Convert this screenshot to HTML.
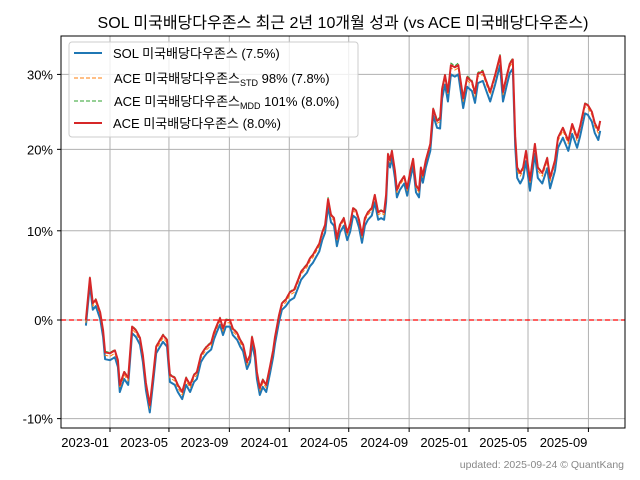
<!DOCTYPE html>
<html><head><meta charset="utf-8">
<style>
html,body{margin:0;padding:0;background:#fff;}
svg{display:block;font-family:"Liberation Sans","Noto Sans CJK KR",sans-serif;}
</style></head>
<body>
<svg id="chart" width="640" height="480" viewBox="0 0 640 480">
<rect x="0" y="0" width="640" height="480" fill="#fff"/>
<text x="343" y="28" font-size="16" text-anchor="middle" fill="#000">SOL 미국배당다우존스 최근 2년 10개월 성과 (vs ACE 미국배당다우존스)</text>
<g id="grid"></g>
<g id="series"></g>
<rect x="61" y="36" width="564" height="392" fill="none" stroke="#000" stroke-width="1"/>
<g id="axes"></g>
<g>
<rect x="69" y="42" width="289" height="95" rx="3" fill="#fff" fill-opacity="0.8" stroke="#ccc"/>
<g><line x1="74" y1="53" x2="102" y2="53" stroke="#1f77b4" stroke-width="2"/><text x="113" y="58" font-size="13">SOL 미국배당다우존스 (7.5%)</text></g>
<g><line x1="74" y1="78" x2="102" y2="78" stroke="#ff7f0e" stroke-width="1" stroke-dasharray="4,2"/><text x="114" y="83" font-size="13">ACE 미국배당다우존스<tspan font-size="9" dy="3">STD</tspan><tspan dy="-3"> 98% (7.8%)</tspan></text></g>
<g><line x1="74" y1="101" x2="102" y2="101" stroke="#2ca02c" stroke-width="1" stroke-dasharray="4,2"/><text x="114" y="106" font-size="13">ACE 미국배당다우존스<tspan font-size="9" dy="3">MDD</tspan><tspan dy="-3"> 101% (8.0%)</tspan></text></g>
<g><line x1="74" y1="123" x2="102" y2="123" stroke="#d62728" stroke-width="2"/><text x="113" y="128" font-size="13">ACE 미국배당다우존스 (8.0%)</text></g>
</g>
<text x="624" y="468" font-size="10.5" text-anchor="end" fill="#888">updated: 2025-09-24 © QuantKang</text>
</svg>
<script>
const days = [-49,-41,-35,-29,-20,-14,-10,0,10,16,20,29,37,45,53,61,67,73,81,88,94,102,108,116,122,132,138,147,155,163,171,177,185,191,197,206,212,218,224,230,236,244,250,259,265,271,279,285,289,295,299,305,311,318,326,332,336,344,350,358,366,375,383,389,395,401,407,413,419,426,432,438,444,450,456,462,468,476,483,489,495,501,507,513,519,525,533,539,546,552,558,562,566,570,574,580,584,590,599,605,611,617,623,629,633,637,643,652,658,666,672,676,682,688,694,702,709,719,727,737,743,749,759,768,774,784,794,800,808,814,820,825,829,835,841,847,855,865,871,880,890,896,906,912,922,933,941,951,957,967,973,981,987,994,998];
const solValues = [-0.6,3.9,1.1,1.5,0.1,-1.8,-4.1,-4.2,-3.9,-4.9,-7.4,-6.1,-6.7,-1.4,-1.8,-2.6,-4.4,-7.2,-9.4,-6.4,-3.5,-2.8,-2.3,-2.8,-6.4,-6.7,-7.4,-8.1,-6.7,-7.4,-6.4,-6.1,-4.4,-3.9,-3.5,-3.1,-2.0,-1.2,-0.5,-1.6,-0.7,-0.7,-1.6,-2.1,-2.8,-3.3,-5.1,-4.4,-2.5,-3.9,-6.1,-7.7,-6.9,-7.4,-5.5,-3.9,-2.5,-0.2,1.1,1.5,2.1,2.4,3.5,4.4,4.8,5.2,5.9,6.3,6.9,7.6,8.9,9.8,12.9,11.0,10.6,8.2,9.8,10.6,8.9,9.9,11.8,11.5,10.4,8.6,10.6,11.3,11.8,13.4,11.3,11.5,11.3,13.4,18.5,17.7,18.9,16.4,14.0,14.9,15.7,14.2,16.2,17.9,14.6,14.0,16.8,15.8,17.7,19.8,24.4,22.8,22.7,26.7,28.6,26.3,30.0,29.7,30.0,25.4,28.3,27.7,26.1,28.8,29.1,27.4,26.3,28.6,31.3,26.3,28.6,30.2,30.8,20.4,16.4,15.7,16.4,18.5,14.8,19.4,16.4,15.7,17.6,15.1,17.3,20.2,21.5,19.8,22.0,20.2,21.7,24.7,24.5,23.6,22.1,21.2,22.4];
const aceStdValues = [-0.3,4.3,1.5,1.9,0.5,-1.4,-3.7,-3.8,-3.5,-4.5,-7.0,-5.7,-6.3,-1.0,-1.4,-2.2,-4.0,-6.8,-9.0,-6.0,-3.1,-2.4,-1.9,-2.4,-6.0,-6.3,-7.0,-7.7,-6.3,-7.0,-6.0,-5.7,-4.0,-3.5,-3.1,-2.7,-1.6,-0.8,-0.1,-1.2,-0.3,-0.3,-1.2,-1.7,-2.4,-2.9,-4.7,-4.0,-2.1,-3.5,-5.7,-7.3,-6.5,-7.0,-5.1,-3.5,-2.1,0.2,1.5,1.9,2.7,3.0,4.1,5.0,5.4,5.8,6.5,6.9,7.5,8.2,9.5,10.4,13.5,11.6,11.2,8.8,10.4,11.2,9.5,10.5,12.4,12.1,11.0,9.2,11.2,11.9,12.4,14.0,11.9,12.1,11.9,14.0,19.1,18.3,19.5,17.0,14.6,15.5,16.3,14.8,16.8,18.5,15.2,14.6,17.4,16.4,18.3,20.4,25.0,23.4,23.6,27.6,29.5,27.2,30.9,30.6,30.9,26.3,29.2,28.6,27.0,29.7,30.0,28.3,27.2,29.5,32.2,27.2,29.5,31.1,31.7,21.3,17.3,16.6,17.3,19.4,15.7,20.3,17.3,16.6,18.5,16.0,18.2,21.1,22.4,20.7,22.9,21.1,22.6,25.6,25.4,24.5,23.0,22.1,23.3];
const aceMddValues = [0.1,4.7,1.9,2.3,0.9,-1.0,-3.3,-3.4,-3.1,-4.1,-6.6,-5.3,-5.9,-0.6,-1.0,-1.8,-3.6,-6.4,-8.6,-5.6,-2.7,-2.0,-1.5,-2.0,-5.6,-5.9,-6.6,-7.3,-5.9,-6.6,-5.6,-5.3,-3.6,-3.1,-2.7,-2.3,-1.2,-0.4,0.3,-0.8,0.1,0.1,-0.8,-1.3,-2.0,-2.5,-4.3,-3.6,-1.7,-3.1,-5.3,-6.9,-6.1,-6.6,-4.7,-3.1,-1.7,0.6,1.9,2.3,3.1,3.4,4.5,5.4,5.8,6.2,6.9,7.3,7.9,8.6,9.9,10.8,14.0,12.0,11.6,9.2,10.8,11.6,9.9,10.9,12.8,12.5,11.4,9.6,11.6,12.3,12.8,14.4,12.3,12.5,12.3,14.4,19.6,18.7,19.9,17.4,15.0,15.9,16.7,15.2,17.2,18.9,15.6,15.0,17.8,16.8,18.7,20.8,25.5,23.9,24.2,28.2,30.1,27.8,31.6,31.2,31.6,26.9,29.8,29.2,27.6,30.3,30.6,28.9,27.8,30.1,32.8,27.8,30.1,31.7,32.3,21.8,17.8,17.1,17.8,19.9,16.2,20.8,17.8,17.1,19.0,16.5,18.7,21.6,22.9,21.2,23.4,21.6,23.1,26.1,25.9,25.0,23.5,22.6,23.8];
const aceValues = [0.0,4.6,1.8,2.2,0.8,-1.1,-3.4,-3.5,-3.2,-4.2,-6.7,-5.4,-6.0,-0.7,-1.1,-1.9,-3.7,-6.5,-8.7,-5.7,-2.8,-2.1,-1.6,-2.1,-5.7,-6.0,-6.7,-7.4,-6.0,-6.7,-5.7,-5.4,-3.7,-3.2,-2.8,-2.4,-1.3,-0.5,0.2,-0.9,0.0,0.0,-0.9,-1.4,-2.1,-2.6,-4.4,-3.7,-1.8,-3.2,-5.4,-7.0,-6.2,-6.7,-4.8,-3.2,-1.8,0.5,1.8,2.2,3.0,3.3,4.4,5.3,5.7,6.1,6.8,7.2,7.8,8.5,9.8,10.7,13.8,11.9,11.5,9.1,10.7,11.5,9.8,10.8,12.7,12.4,11.3,9.5,11.5,12.2,12.7,14.3,12.2,12.4,12.2,14.3,19.4,18.6,19.8,17.3,14.9,15.8,16.6,15.1,17.1,18.8,15.5,14.9,17.7,16.7,18.6,20.7,25.3,23.7,24.0,28.0,29.9,27.6,31.3,31.0,31.3,26.7,29.6,29.0,27.4,30.1,30.4,28.7,27.6,29.9,32.6,27.6,29.9,31.5,32.1,21.7,17.7,17.0,17.7,19.8,16.1,20.7,17.7,17.0,18.9,16.4,18.6,21.5,22.8,21.1,23.3,21.5,23.0,26.0,25.8,24.9,23.4,22.5,23.7];
const xTickLabels = ["2023-01","2023-05","2023-09","2024-01","2024-05","2024-09","2025-01","2025-05","2025-09"];
const xTickDays = [0,120,243,365,486,609,731,851,974];
const yTickValues = [-10,0,10,20,30];

const NS = "http://www.w3.org/2000/svg";
const L = 61, R = 625, T = 36, B = 428;
function xScale(d){ return 110 + d * 0.4912; }
function yScale(p){ return 320 - 936 * Math.log(1 + p / 100); }
function mk(tag, attrs, parent){ const e = document.createElementNS(NS, tag); for (const k in attrs) e.setAttribute(k, attrs[k]); parent.appendChild(e); return e; }

const grid = document.getElementById('grid');
const axes = document.getElementById('axes');
xTickDays.forEach((d, i) => {
  const x = xScale(d);
  const gl = mk('line', {x1:x, x2:x, y1:T, y2:B, stroke:'#b0b0b0', 'stroke-width':1}, grid);
  
  
  mk('line', {x1:x, x2:x, y1:B, y2:B+4, stroke:'#000', 'stroke-width':1}, axes);
  const t = mk('text', {x:x-1, y:B+19, 'font-size':13, 'text-anchor':'end', fill:'#000'}, axes);
  t.textContent = xTickLabels[i];
  
  
});
yTickValues.forEach(v => {
  const y = yScale(v);
  const gl = mk('line', {x1:L, x2:R, y1:y, y2:y, stroke:'#b0b0b0', 'stroke-width':1}, grid);
  
  
  mk('line', {x1:L-4, x2:L, y1:y, y2:y, stroke:'#000', 'stroke-width':1}, axes);
  const t = mk('text', {x:L-8, y:y+5, 'font-size':13, 'text-anchor':'end', fill:'#000'}, axes);
  t.textContent = v + '%';
  
  
});
const zl = mk('line', {x1:L, x2:R, y1:yScale(0), y2:yScale(0), stroke:'#ff0000', 'stroke-width':1.2, 'stroke-dasharray':'5,3'}, grid);



const series = document.getElementById('series');
function drawLine(vals, color, width, dash, name){
  const pts = vals.map((v, i) => xScale(days[i]).toFixed(1) + ',' + yScale(v).toFixed(1)).join(' ');
  const a = {points:pts, fill:'none', stroke:color, 'stroke-width':width, 'stroke-linejoin':'round'};
  if (dash) a['stroke-dasharray'] = dash;
  const p = mk('polyline', a, series);
  
  
}
drawLine(solValues, '#1f77b4', 2, null, 'line-sol');
drawLine(aceStdValues, '#ff7f0e', 1, '4,2', 'line-ace-std');
drawLine(aceMddValues, '#2ca02c', 1, '4,2', 'line-ace-mdd');
drawLine(aceValues, '#d62728', 2, null, 'line-ace');
</script>
</body></html>
